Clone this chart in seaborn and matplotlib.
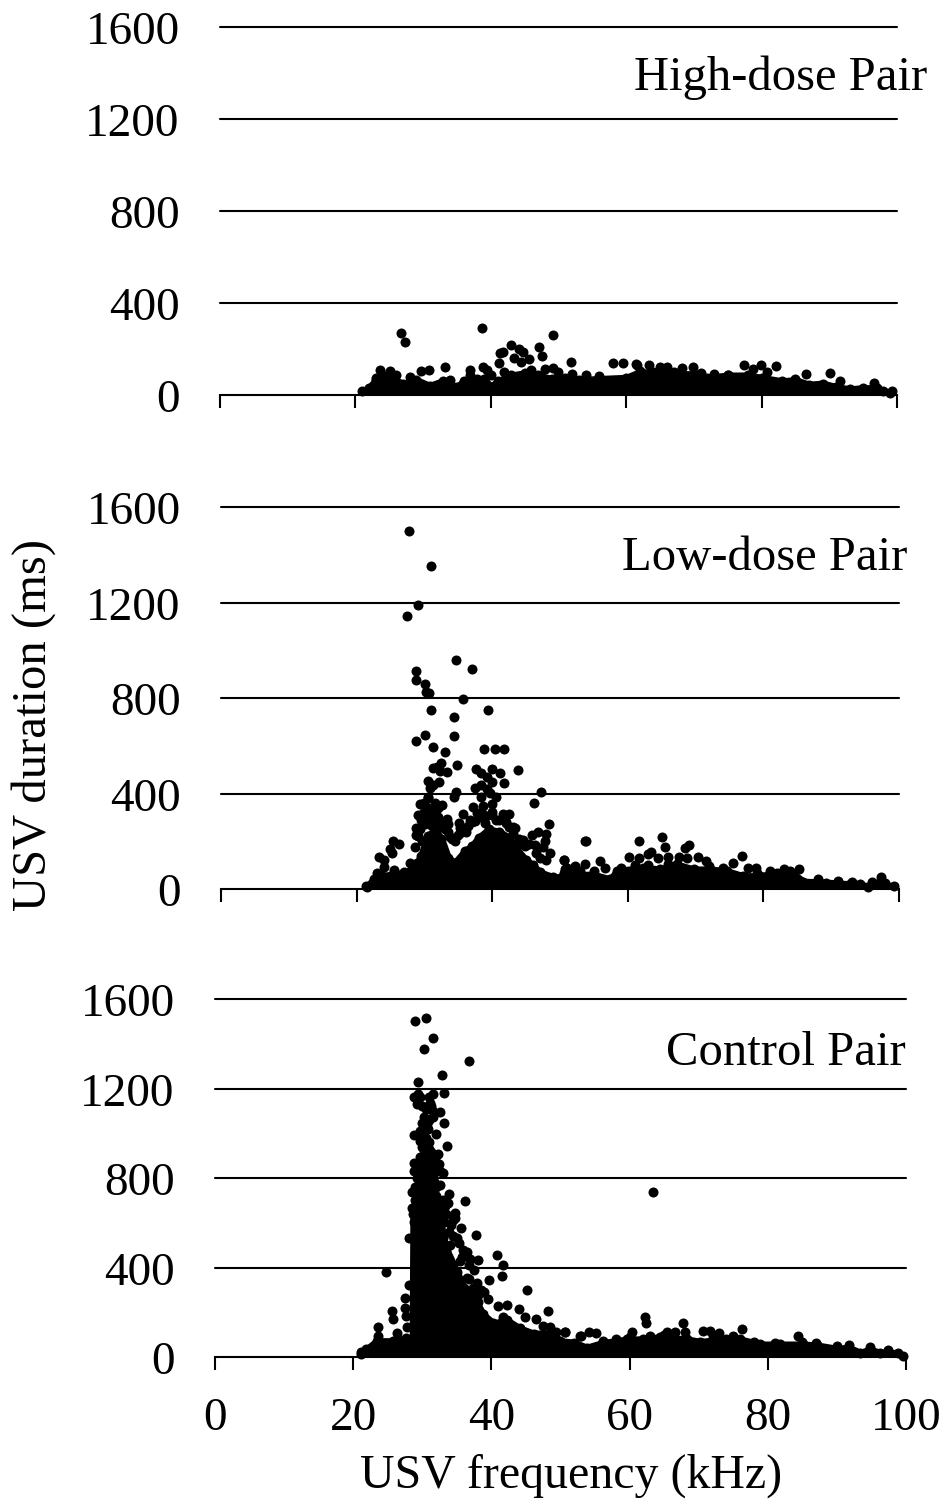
import matplotlib
matplotlib.use('Agg')
import matplotlib.pyplot as plt
from matplotlib.transforms import ScaledTranslation
import pandas as pd
import seaborn as sns

# High-dose pair: outline of the solid mass, then the separate dots
high_mass_freq = [21, 22, 23, 25, 27, 29, 31, 33, 35, 36, 38, 39, 40, 41, 43, 45, 47, 49, 51, 53, 56, 60, 62,
                  65, 70, 72, 75, 78, 80, 83, 85, 87, 89, 91, 93, 95, 97, 98, 99]
high_mass_dur = [18, 30, 65, 75, 50, 65, 40, 62, 35, 60, 70, 70, 35, 60, 85, 95, 85, 70, 75, 65, 70, 75, 100,
                 95, 90, 75, 85, 85, 75, 60, 65, 45, 50, 35, 25, 30, 30, 18, 10]
high_freq = [26.8, 27.4, 38.7, 49.2, 47.1, 47.6, 43.0, 41.4, 41.8, 44.2, 44.7, 43.4, 44.5, 45.6, 41.2, 23.7,
             25.1, 29.7, 30.9, 33.2, 37.0, 38.8, 39.4, 51.9, 58.0, 59.6, 61.6, 49.2, 48.0, 61.5, 63.4, 65.0,
             66.0, 68.2, 69.9, 77.4, 79.9, 82.2, 78.8, 80.8, 86.5, 90.1, 91.6, 96.6, 99.2,
             23, 24, 26, 28, 34, 37, 40, 42, 46, 50, 52, 54, 56, 62, 64, 67, 71, 73, 75, 85]
high_dur = [268, 232, 290, 261, 209, 170, 216, 184, 187, 200, 188, 160, 142, 155, 138, 107,
            104, 104, 107, 120, 109, 120, 109, 145, 138, 140, 130, 116, 111, 133, 130, 123,
            120, 119, 120, 129, 129, 125, 112, 99, 90, 96, 62, 51, 19,
            75, 88, 85, 80, 65, 85, 88, 100, 110, 100, 90, 85, 82, 105, 100, 100, 95, 90, 85, 70]

# Low-dose pair
low_mass_freq = [21.5, 22.5, 23.5, 25, 27, 28.5, 29.5, 30.5, 31.5, 32.5, 33.5, 34.5, 36, 37, 38, 39.5, 41, 42.5,
                 43.5, 45, 46, 47, 49, 50, 50.6, 52.5, 55, 57.4, 58.4, 62.3, 64.7, 67.2, 69.7, 72.1, 74.6, 77,
                 79.5, 82, 83.9, 85.9, 89.3, 92.8, 94.2, 95.5, 96.7, 99.2]
low_mass_dur = [10, 40, 60, 55, 70, 85, 140, 220, 250, 210, 130, 110, 160, 180, 215, 250, 240, 215,
                170, 120, 100, 70, 50, 45, 65, 60, 60, 40, 75, 90, 82, 103, 82, 82, 75, 54,
                54, 68, 75, 31, 27, 20, 20, 10, 20, 12]
low_freq = [27.8, 30.9, 29.0, 27.5, 34.7, 37.0, 28.8, 28.8, 30.1, 30.2, 30.7, 35.7, 31.0, 39.4, 34.4, 34.3,
            30.1, 28.8, 31.3, 33.0, 38.8, 40.4, 41.8, 34.8, 32.5, 31.3, 31.9, 32.3, 33.3, 37.6, 38.3, 39.9,
            41.2, 43.8, 39.3, 39.9, 41.8, 30.6, 32.1, 31.3, 30.8, 37.4, 38.3, 39.2, 47.2, 34.7, 34.4, 30.6,
            38.4, 39.7, 40.6, 46.1, 29.4, 30.0, 32.6, 37.1, 38.7, 39.9, 29.0, 30.0, 31.4, 35.7, 37.7, 38.8,
            39.9, 41.6, 42.5, 31.4, 33.4, 36.7, 40.5, 30.1, 33.5, 35.1, 31.3, 39.0, 42.1, 48.4, 28.8, 28.8,
            32.5, 35.2, 36.2, 43.4, 46.8, 45.8, 48.0, 44.6, 33.8, 25.4, 26.3, 25.0, 25.2, 28.6, 47.8, 46.3,
            47.5, 48.5, 23.3, 24.0, 50.6, 52.2, 51.0, 27.9, 28.9, 24.1, 25.5, 23.0, 21.4,
            53.9, 53.7, 61.7, 65.1, 65.5, 63.4, 63.0, 68.4, 69.1, 60.2, 61.6, 64.4, 67.6, 68.7, 66.0, 70.3,
            71.6, 50.6, 53.7, 52.2, 55.9, 50.7, 75.5, 76.8, 77.8, 78.9, 85.2, 97.3, 56.6,
            30.8, 31.0, 31.6, 32.0, 30.5, 29.2, 32.0, 31.5, 30.2, 31.2, 32.6, 29.6, 30.6, 43.0, 44.0, 42.5,
            29.5, 30.0, 30.5, 31.0, 31.5, 32.0, 32.5, 33.0, 33.5, 29.4, 29.1, 34.0, 34.5, 35.0, 35.5, 36.0,
            36.5, 37.0, 37.5, 38.0, 38.5, 39.0, 40.0, 41.0, 42.0, 43.0, 44.0, 44.8, 45.5, 46.5, 47.0, 48.0,
            51, 53, 55, 59, 61, 63, 66, 72, 74, 79, 81, 83, 88, 91, 93, 96, 98]
low_dur = [1501, 1353, 1191, 1143, 961, 923, 915, 875, 860, 827, 820, 795, 751, 750, 719, 642,
           647, 621, 596, 572, 588, 586, 585, 521, 526, 505, 513, 494, 489, 504, 487, 504,
           487, 500, 471, 450, 445, 454, 450, 436, 425, 422, 434, 418, 408, 405, 384, 387,
           384, 401, 387, 360, 355, 359, 353, 345, 348, 358, 310, 324, 328, 313, 317, 310,
           324, 314, 314, 296, 292, 289, 289, 271, 271, 275, 268, 278, 275, 271, 254, 226,
           258, 254, 240, 254, 240, 226, 229, 205, 217, 201, 187, 166, 150, 177, 201, 184,
           175, 150, 136, 122, 122, 94, 87, 108, 110, 91, 80, 66, 13,
           202, 202, 200, 216, 176, 156, 145, 173, 184, 133, 128, 130, 135, 128, 133, 133,
           117, 121, 105, 96, 117, 84, 107, 138, 87, 87, 82, 52, 87,
           300, 270, 360, 340, 340, 250, 300, 220, 280, 320, 270, 200, 380, 230, 210, 260,
           290, 300, 310, 320, 310, 290, 280, 250, 240, 250, 220, 210, 200, 225, 240, 250,
           265, 280, 285, 300, 300, 300, 310, 290, 280, 260, 200, 180, 190, 150, 130, 120,
           80, 75, 75, 90, 100, 100, 105, 95, 90, 65, 75, 85, 40, 32, 30, 30, 25]

# Control pair
control_mass_freq = [21.2, 21.9, 23.4, 25.8, 27.7, 28.6, 28.7, 29.2, 30, 30.8, 31.5, 32, 32.5, 33, 33.5, 35, 36,
                     37.4, 38.8, 40.3, 42.2, 44.1, 46.1, 48.5, 49.5, 50, 52, 53.8, 56.2, 58.1, 59.6, 62, 64.4,
                     68.3, 70.2, 74, 76, 78.9, 81.8, 85.1, 87.1, 90, 91.7, 93.4, 94.8, 96.2, 97.4, 98.9, 99.6]
control_mass_dur = [15, 34, 71, 71, 85, 85, 640, 760, 830, 850, 800, 720, 650, 530, 480, 380, 310,
                    270, 190, 150, 165, 128, 105, 105, 75, 71, 64, 42, 64, 71, 79, 79, 89,
                    79, 68, 79, 79, 56, 56, 56, 52, 37, 42, 19, 34, 19, 22, 16, 5]
control_freq = [30.6, 29.0, 31.5, 30.2, 36.8, 32.8, 29.4, 33.1, 31.5, 29.4, 28.8, 29.2, 31.1, 31.4, 32.6, 30.2,
                31.5, 33.2, 29.9, 28.8, 32.0, 30.1, 33.6, 29.9, 32.2, 29.7, 28.8, 32.4, 28.8, 30.1, 33.0, 31.6,
                32.0, 28.5, 33.8, 36.2, 33.3, 28.5, 34.8, 28.8, 34.5, 33.2, 35.6, 33.8, 37.7, 28.1, 35.0, 34.0,
                35.9, 40.8, 38.0, 35.7, 41.7, 36.7, 24.7, 41.6, 39.7, 36.4, 45.2, 37.4, 42.2, 41.0, 38.1, 44.0,
                48.2, 25.6, 27.5, 25.8, 27.7, 44.9, 46.4, 23.6, 27.8, 26.3, 23.6, 47.5, 48.5, 50.6, 49.4, 52.8,
                21.1, 27.5, 28.1, 41.7, 30.5, 30.8, 30.0, 30.3, 31.0, 30.8, 29.5, 30.0, 29.6,
                63.4, 62.3, 62.4, 67.7, 76.3, 84.3, 54.1, 55.2, 52.9, 50.6, 60.4, 70.6, 71.7, 73.0, 65.4, 66.6, 68.0,
                31.0, 30.5, 31.3, 31.0, 30.7, 30.2, 29.7, 30.9, 30.4, 29.7, 30.3, 31.3, 31.9, 31.0, 30.2, 29.5,
                31.7, 32.1, 29.6, 32.5, 31.0, 29.2, 29.9, 31.7, 32.6, 29.0, 33.0, 33.7, 28.9, 33.5, 34.2, 34.8,
                34.4, 35.3, 36.5, 36.9, 35.4, 37.5, 36.8, 37.9, 38.5, 39.0, 39.5, 38.2,
                56.2, 58.1, 60, 63, 65, 72, 75, 78, 81, 85, 87, 90, 91.7, 94.8, 97.4]
control_dur = [1513, 1500, 1424, 1375, 1324, 1260, 1227, 1181, 1174, 1174, 1160, 1131, 1134, 1104, 1093, 1074,
               1074, 1044, 1047, 993, 995, 992, 944, 940, 907, 895, 865, 861, 833, 836, 821, 813,
               758, 739, 727, 698, 675, 664, 642, 605, 612, 605, 576, 560, 545, 532, 530, 500,
               478, 454, 432, 448, 411, 411, 381, 363, 344, 354, 298, 307, 232, 228, 247, 213,
               207, 205, 217, 168, 183, 180, 168, 132, 132, 106, 94, 138, 132, 113, 113, 95,
               24, 262, 322, 180, 980, 1020, 1000, 900, 930, 870, 820, 1120, 1160,
               738, 179, 153, 153, 124, 94, 113, 109, 95, 113, 113, 118, 118, 106, 113, 113, 113,
               1160, 1110, 1120, 1060, 1040, 1010, 1010, 960, 960, 965, 925, 915, 890, 880, 860, 870,
               860, 840, 845, 830, 830, 800, 790, 780, 770, 760, 700, 690, 700, 640, 590, 620,
               540, 510, 470, 440, 430, 390, 350, 330, 300, 290, 260, 280,
               72, 80, 90, 92, 100, 95, 92, 68, 62, 65, 62, 50, 55, 45, 32]

y_ticks = [0, 400, 800, 1200, 1600]
x_ticks = [0, 20, 40, 60, 80, 100]
panel_names = ['High-dose Pair', 'Low-dose Pair', 'Control Pair']

W, H = 945, 1501


def make_axes(fig, left, right, top, bottom):
    # positions are given in reference pixels
    return fig.add_axes([left / W, 1 - bottom / H, (right - left) / W, (bottom - top) / H])


def draw_panel(ax, mass_freq, mass_dur, freq, dur, show_labels):
    ax.set_xlim(0, 100)
    ax.set_ylim(0, 1600)
    for v in y_ticks[1:]:
        ax.axhline(v, color='black', lw=1.5, zorder=1, clip_on=False)

    # thick round edge so the mass reaches about as far as the dots on its outline
    ax.fill_between(mass_freq, 0, mass_dur, facecolor='black', edgecolor='black', lw=5,
                    joinstyle='round', zorder=3)
    edge = pd.DataFrame({'freq': mass_freq, 'dur': mass_dur})
    dots = pd.DataFrame({'freq': freq, 'dur': dur})
    for df in [edge, dots]:
        sns.scatterplot(data=df, x='freq', y='dur', ax=ax, color='black', s=52, linewidth=0,
                        zorder=4, clip_on=False, legend=False)

    ax.set_xlabel('')
    ax.set_ylabel('')
    ax.set_xticks(x_ticks)
    ax.set_yticks(y_ticks)
    ax.tick_params(axis='y', length=0, pad=29, labelsize=34, labelcolor='black')
    ax.tick_params(axis='x', length=9, width=1.5, direction='out', bottom=True, pad=20,
                   labelsize=34, labelbottom=show_labels, color='black', labelcolor='black')
    # labels sit about 1 px lower than the default centring
    shift = ScaledTranslation(0, -1 / 100, fig.dpi_scale_trans)
    for label in ax.get_yticklabels():
        label.set_transform(label.get_transform() + shift)
    for side in ['top', 'right', 'left']:
        ax.spines[side].set_visible(False)
    ax.spines['bottom'].set_linewidth(1.5)
    ax.spines['bottom'].set_color('black')
    ax.patch.set_alpha(0)


sns.set_theme(style='white')
plt.rcParams['font.family'] = ['Liberation Serif', 'DejaVu Serif']

fig = plt.figure(figsize=(W / 100, H / 100), dpi=100)

ax1 = make_axes(fig, 220, 897, 27, 395)
ax2 = make_axes(fig, 221, 899, 507, 889)
ax3 = make_axes(fig, 215, 906, 999, 1357)

draw_panel(ax1, high_mass_freq, high_mass_dur, high_freq, high_dur, False)
draw_panel(ax2, low_mass_freq, low_mass_dur, low_freq, low_dur, False)
draw_panel(ax3, control_mass_freq, control_mass_dur, control_freq, control_dur, True)

fig.text(927 / W, 1 - 78 / H, panel_names[0], ha='right', va='center', fontsize=35, color='black')
fig.text(907 / W, 1 - 558 / H, panel_names[1], ha='right', va='center', fontsize=35, color='black')
fig.text(906 / W, 1 - 1053 / H, panel_names[2], ha='right', va='center', fontsize=35, color='black')

fig.text(571 / W, 1 - 1476 / H, 'USV frequency (kHz)', ha='center', va='center', fontsize=34.5, color='black')
fig.text(34 / W, 1 - 725 / H, 'USV duration (ms)', ha='center', va='center', rotation=90, fontsize=35, color='black')

fig.savefig('out.png', dpi=100, facecolor='white')
